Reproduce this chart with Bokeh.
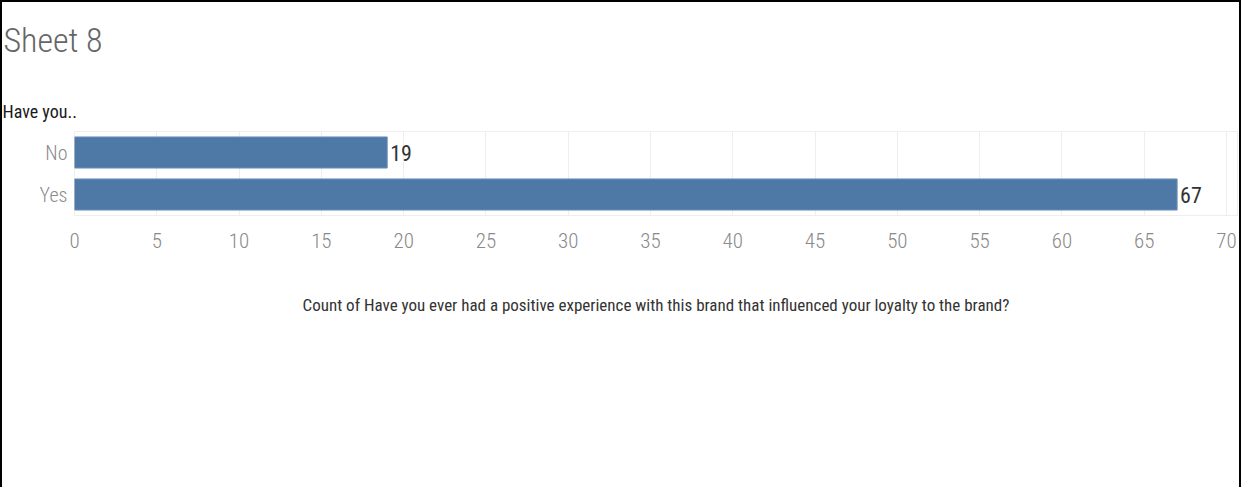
from bokeh.plotting import figure
from bokeh.models import ColumnDataSource, Title, FixedTicker, Range1d
from bokeh.core.properties import value
from bokeh.embed import file_html
from bokeh.resources import INLINE

categories = ["No", "Yes"]
counts = [19, 67]
x_ticks = [0, 5, 10, 15, 20, 25, 30, 35, 40, 45, 50, 55, 60, 65, 70]
title_text = "Sheet 8"
row_header = "Have you.."
x_title = "Count of Have you ever had a positive experience with this brand that influenced your loyalty to the brand?"

FONT = "'Roboto Condensed', 'DejaVu Sans Condensed', 'Liberation Sans Narrow', Lato"
LIGHT = "'Roboto Condensed Light', 'Roboto Condensed', 'DejaVu Sans Condensed', Lato"

src = ColumnDataSource(dict(cat=categories, count=counts, lbl=[str(c) for c in counts]))

p = figure(width=1241, height=487, output_backend="svg", toolbar_location=None,
           y_range=list(reversed(categories)), x_range=Range1d(0, 70.67),
           min_border_left=72, min_border_top=129, min_border_bottom=274, min_border_right=6,
           title=Title(text=title_text, align="left", offset=-71, standoff=0,
                       vertical_align="bottom",
                       padding=dict(left=0, right=0, top=0, bottom=29),
                       text_font=LIGHT, text_font_size="34px", text_font_style="normal",
                       text_color="#666666"))

p.add_layout(Title(text=row_header, align="left", offset=-72, standoff=20,
                   text_font=FONT, text_font_size="18px", text_font_style="normal",
                   text_color="#1a1a1a"), "above")

p.hbar(y="cat", right="count", left=0, height=0.74, source=src,
       fill_color="#4e79a7", line_color="#6a8fb8", line_width=1)
p.text(x="count", y="cat", text="lbl", source=src, x_offset=3,
       text_baseline="middle", text_align="left", text_color="#333333",
       text_font=value(FONT), text_font_size="22px")

p.xaxis.ticker = FixedTicker(ticks=x_ticks)
p.xaxis.axis_line_color = None
p.xaxis.major_tick_line_color = None
p.xaxis.minor_tick_line_color = None
p.xaxis.major_label_text_font = LIGHT
p.xaxis.major_label_text_font_size = "21px"
p.xaxis.major_label_text_color = "#8a8a8a"
p.xaxis.major_label_standoff = 11
p.xaxis.axis_label = x_title
p.xaxis.axis_label_text_font = FONT
p.xaxis.axis_label_text_font_size = "17px"
p.xaxis.axis_label_text_font_style = "normal"
p.xaxis.axis_label_text_color = "#333333"
p.xaxis.axis_label_standoff = 44

p.yaxis.axis_line_color = None
p.yaxis.major_tick_line_color = None
p.yaxis.minor_tick_line_color = None
p.yaxis.major_label_text_font = LIGHT
p.yaxis.major_label_text_font_size = "20px"
p.yaxis.major_label_text_color = "#8a8a8a"
p.yaxis.major_label_standoff = 1

p.xgrid.grid_line_color = "#eeeeee"
p.ygrid.grid_line_color = None
p.outline_line_color = "#eeeeee"

p.styles = {"border-top": "2px solid black", "border-left": "2px solid black",
            "border-right": "2px solid black"}

open("out.html", "w").write(file_html(p, INLINE))
